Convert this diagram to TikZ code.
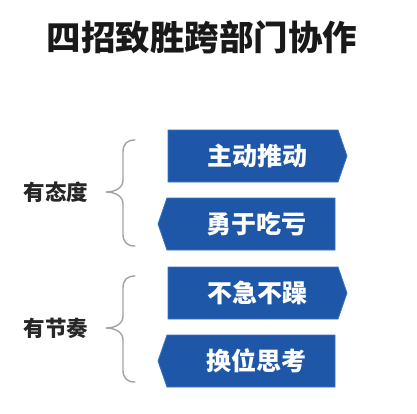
\documentclass[tikz,border=0pt]{standalone}
\usepackage{fontspec}
\newfontfamily\cjk{Noto Sans CJK SC}
\definecolor{boxblue}{HTML}{1E56A8}
\definecolor{boxedge}{HTML}{3A74C2}
\definecolor{bracegray}{HTML}{A3A3A3}
\tikzset{
  tab/.style={fill=boxblue,draw=boxedge,line width=0.8pt,line join=miter},
  tabtext/.style={text=white,font=\cjk\bfseries\fontsize{25}{25}\selectfont,inner sep=0pt},
  grouplabel/.style={text=black!85,font=\cjk\bfseries\fontsize{21.5}{21.5}\selectfont,inner sep=0pt},
  curly/.style={draw=bracegray,line width=1.4pt,line cap=round,line join=round},
}
\begin{document}
\begin{tikzpicture}[x=1pt,y=-1pt]
\useasboundingbox (0,0) rectangle (417,413);
\fill[white] (0,0) rectangle (417,413);
% title
\node[font=\cjk\bfseries\fontsize{34.5}{34.5}\selectfont,text=black!90,inner sep=0pt] (title) at (202,37) {四招致胜跨部门协作};
% tabs
\path[tab] (168,130) -- (338,130) -- (347,156) -- (338,182) -- (168,182) -- cycle;
\node[tabtext] (t1) at (257,156) {主动推动};
\path[tab] (158,224) -- (167,198) -- (335,198) -- (335,250) -- (167,250) -- cycle;
\node[tabtext] (t2) at (256,224) {勇于吃亏};
\path[tab] (168,267) -- (338,267) -- (347,293) -- (338,319) -- (168,319) -- cycle;
\node[tabtext] (t3) at (257,293) {不急不躁};
\path[tab] (158,361) -- (167,335) -- (335,335) -- (335,387) -- (167,387) -- cycle;
\node[tabtext] (t4) at (256,361) {换位思考};
% group labels
\node[grouplabel] (g1) at (56,192) {有态度};
\node[grouplabel] (g2) at (56,328) {有节奏};
% braces
\coordinate (b1top) at (135,140);
\coordinate (b1tip) at (106,192);
\coordinate (b1bot) at (135,246);
\draw[curly] (b1top) .. controls (127,140) and (123,144) .. (123,152) -- (123,180)
  .. controls (123,188) and (115,192) .. (b1tip)
  .. controls (115,192) and (123,196) .. (123,204) -- (123,234)
  .. controls (123,242) and (127,246) .. (b1bot);
\coordinate (b2top) at (135,276);
\coordinate (b2tip) at (106,328);
\coordinate (b2bot) at (135,382);
\draw[curly] (b2top) .. controls (127,276) and (123,280) .. (123,288) -- (123,316)
  .. controls (123,324) and (115,328) .. (b2tip)
  .. controls (115,328) and (123,332) .. (123,340) -- (123,370)
  .. controls (123,378) and (127,382) .. (b2bot);
\end{tikzpicture}
\end{document}
